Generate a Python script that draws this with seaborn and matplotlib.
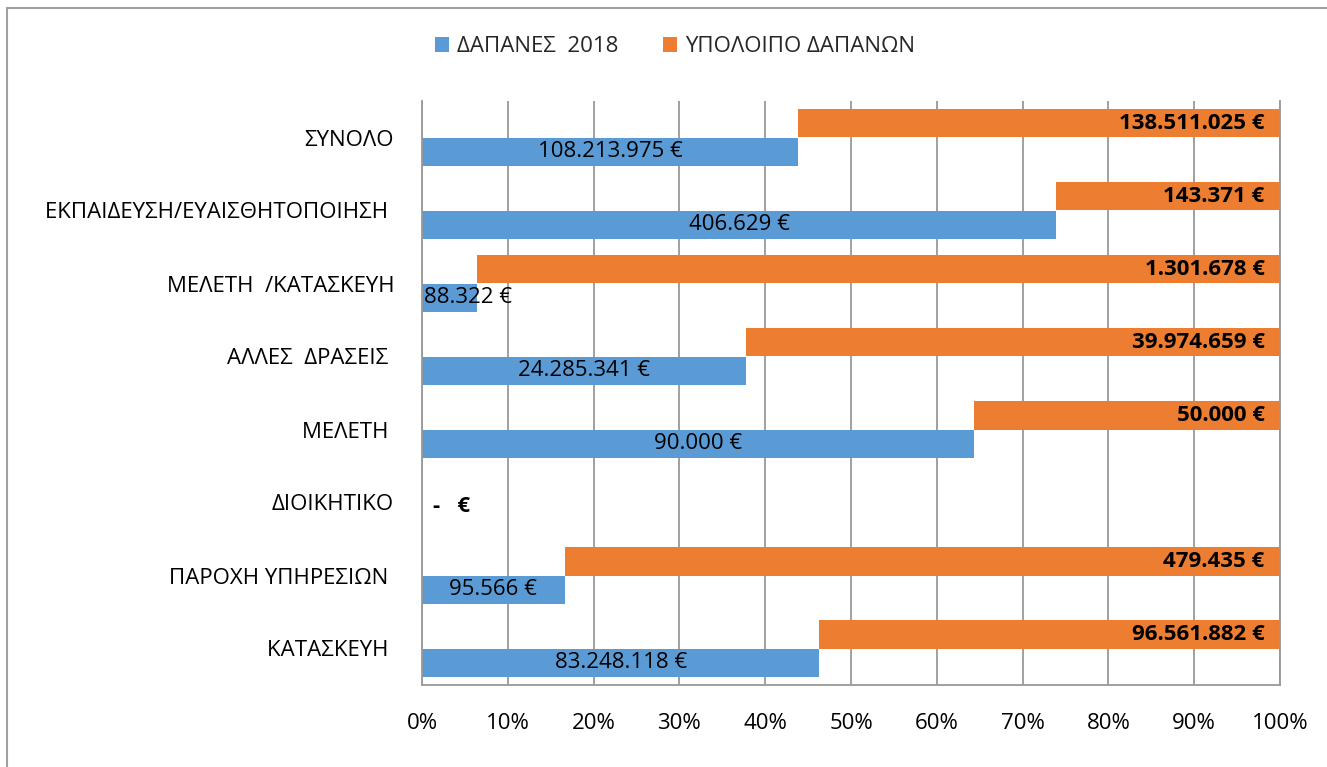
import numpy as np
import pandas as pd
import matplotlib
matplotlib.use('Agg')
import matplotlib.pyplot as plt
import seaborn as sns
from matplotlib.patches import Patch, Rectangle
from matplotlib.ticker import PercentFormatter

# dados
categorias = ['ΣΥΝΟΛΟ', 'ΕΚΠΑΙΔΕΥΣΗ/ΕΥΑΙΣΘΗΤΟΠΟΙΗΣΗ ', 'ΜΕΛΕΤΗ  /ΚΑΤΑΣΚΕΥΗ',
              'ΑΛΛΕΣ  ΔΡΑΣΕΙΣ ', 'ΜΕΛΕΤΗ ', 'ΔΙΟΙΚΗΤΙΚΟ', 'ΠΑΡΟΧΗ ΥΠΗΡΕΣΙΩΝ ',
              'ΚΑΤΑΣΚΕΥΗ ']
dapanes_2018 = [108213975, 406629, 88322, 24285341, 90000, 0, 95566, 83248118]
ypoloipo = [138511025, 143371, 1301678, 39974659, 50000, 0, 479435, 96561882]
series = ['ΔΑΠΑΝΕΣ  2018', 'ΥΠΟΛΟΙΠΟ ΔΑΠΑΝΩΝ']
cores = {'ΔΑΠΑΝΕΣ  2018': '#5B9BD5', 'ΥΠΟΛΟΙΠΟ ΔΑΠΑΝΩΝ': '#ED7D31'}

sns.set_style('white')
plt.rcParams['font.family'] = ['Open Sans', 'DejaVu Sans']
FS = 16


def euro(v):
    if v == 0:
        return '-   €'
    return f'{v:,}'.replace(',', '.') + ' €'


b = np.array(dapanes_2018, dtype=float)
r = np.array(ypoloipo, dtype=float)
tot = b + r
frac_b = np.divide(b, tot, out=np.zeros_like(b), where=tot > 0)
frac_r = np.divide(r, tot, out=np.zeros_like(r), where=tot > 0)

df = pd.DataFrame({
    'categoria': categorias * 2,
    'serie': [series[1]] * len(categorias) + [series[0]] * len(categorias),
    'fracao': list(frac_r) + list(frac_b),
})

fig = plt.figure(figsize=(13.27, 7.67), dpi=100)
ax = fig.add_axes([422 / 1327, 1 - 685 / 767, (1280 - 422) / 1327, (685 - 101) / 767])

sns.barplot(data=df, x='fracao', y='categoria', hue='serie',
            hue_order=[series[1], series[0]], order=categorias,
            palette=cores, saturation=1, width=0.77, dodge=True,
            errorbar=None, legend=False, orient='y', linewidth=0, ax=ax)

# empilhar o restante depois da parte de 2018
cont_r, cont_b = ax.containers[0], ax.containers[1]
for p, left in zip(cont_r, frac_b):
    p.set_x(left)

# rótulos
for i, (p, v) in enumerate(zip(cont_b, dapanes_2018)):
    if v == 0:
        continue
    yc = p.get_y() + p.get_height() / 2
    if frac_b[i] >= 0.1:
        ax.text(frac_b[i] / 2, yc, euro(v), ha='center', va='center', fontsize=FS, color='black')
    else:
        ax.text(0.002, yc, euro(v), ha='left', va='center', fontsize=FS, color='black')

for i, (p, v) in enumerate(zip(cont_r, ypoloipo)):
    if v == 0:
        ax.annotate(euro(v), (0, i + 0.05), xytext=(8, 0), textcoords='offset points',
                    ha='left', va='center', fontsize=FS, fontweight='bold', color='black')
        continue
    yc = p.get_y() + p.get_height() / 2
    ax.annotate(euro(v), (p.get_x() + p.get_width(), yc), xytext=(-11, 0),
                textcoords='offset points', ha='right', va='center',
                fontsize=FS, fontweight='bold', color='black')

ax.set_xlim(0, 1)
ax.xaxis.set_major_locator(plt.MultipleLocator(0.1))
ax.xaxis.set_major_formatter(PercentFormatter(1, decimals=0))
ax.set_xlabel('')
ax.set_ylabel('')
ax.set_axisbelow(True)
ax.grid(axis='x', color='#999999', linewidth=1.3)
ax.grid(axis='y', visible=False)
for s in ['left', 'bottom', 'right']:
    ax.spines[s].set_color('#999999')
    ax.spines[s].set_linewidth(1.3)
ax.spines['top'].set_visible(False)
ax.tick_params(axis='both', length=0, labelsize=FS, colors='black')
ax.tick_params(axis='y', pad=20)
ax.tick_params(axis='x', pad=20)

handles = [Patch(facecolor=cores[s], edgecolor='none') for s in series]
fig.legend(handles, series, loc='center', bbox_to_anchor=(675 / 1327, 1 - 47 / 767),
           ncol=2, frameon=False, fontsize=FS, handlelength=0.63, handleheight=0.63,
           handletextpad=0.35, columnspacing=2.0)

fig.add_artist(Rectangle((7 / 1327, -0.05), 1.1, (767 - 8) / 767 + 0.05,
                         transform=fig.transFigure, fill=False,
                         edgecolor='#a0a0a0', linewidth=1.5))

fig.savefig('out.png', dpi=100)
